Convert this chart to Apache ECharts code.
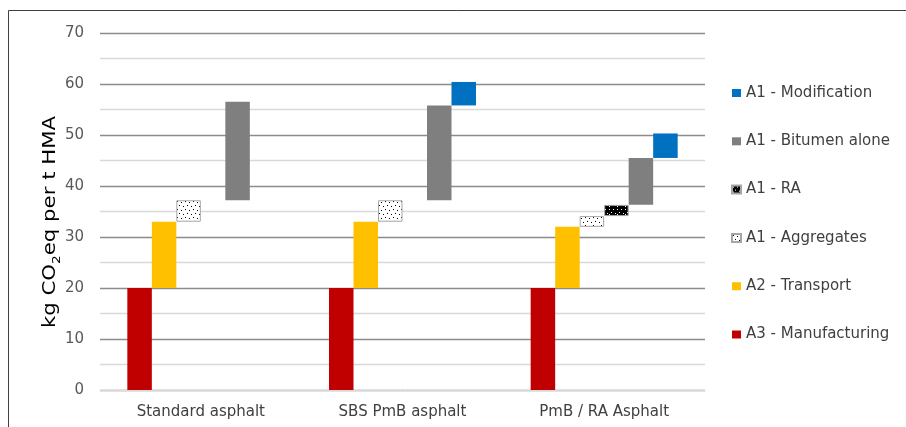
<!DOCTYPE html>
<html>
<head>
<meta charset="utf-8">
<script src="https://cdn.jsdelivr.net/npm/echarts@6/dist/echarts.min.js"></script>
<style>
html,body{margin:0;padding:0;background:#fff;}
#c{width:906px;height:427px;}
</style>
</head>
<body>
<div id="c"></div>
<script>
// Categories
const categories = ['Standard asphalt', 'SBS PmB asphalt', 'PmB / RA Asphalt'];
// Each series: [low, high] per category (null = no bar)
const manufacturing = [[0, 20], [0, 20], [0, 20]];
const transport = [[20, 33], [20, 33], [20, 32]];
const aggregates = [[33, 37.2], [33, 37.2], [32, 34.1]];
const ra = [null, null, [34.1, 36.3]];
const bitumen = [[37.2, 56.5], [37.2, 55.8], [36.3, 45.5]];
const modification = [null, [55.8, 60.4], [45.5, 50.3]];
const seriesNames = ['A3 - Manufacturing', 'A2 - Transport', 'A1 - Aggregates', 'A1 - RA', 'A1 - Bitumen alone', 'A1 - Modification'];
const legendOrder = ['A1 - Modification', 'A1 - Bitumen alone', 'A1 - RA', 'A1 - Aggregates', 'A2 - Transport', 'A3 - Manufacturing'];
const yTicks = [0, 10, 20, 30, 40, 50, 60, 70];

const FONT = '"DejaVu Sans", sans-serif';

function makePattern(bg, dot, pts) {
  const cv = document.createElement('canvas');
  cv.width = 8; cv.height = 8;
  const ctx = cv.getContext('2d');
  ctx.fillStyle = bg; ctx.fillRect(0, 0, 8, 8);
  ctx.fillStyle = dot;
  pts.forEach(p => ctx.fillRect(p[0], p[1], 1, 1));
  return cv;
}
const aggPattern = makePattern('#ffffff', '#000000', [[1, 1], [5, 2], [3, 5], [7, 6]]);
const raPattern = makePattern('#000000', '#ffffff', [[1, 1], [5, 1], [3, 4], [7, 5], [1, 6]]);

const styles = [
  { color: '#c00000' },
  { color: '#ffc000' },
  { color: { image: aggPattern, repeat: 'repeat' }, borderColor: '#a6a6a6', borderWidth: 1 },
  { color: { image: raPattern, repeat: 'repeat' }, borderColor: '#a6a6a6', borderWidth: 1 },
  { color: '#7f7f7f' },
  { color: '#0070c0' }
];
const allData = [manufacturing, transport, aggregates, ra, bitumen, modification];

const series = [];
allData.forEach((d, i) => {
  series.push({
    type: 'bar', stack: 's' + i, name: 'base' + i,
    barWidth: 24.5, barGap: '0%',
    itemStyle: { color: 'transparent' },
    emphasis: { disabled: true }, silent: true,
    data: d.map(v => v ? v[0] : '-')
  });
  series.push({
    type: 'bar', stack: 's' + i, name: seriesNames[i],
    barWidth: 24.5, barGap: '0%',
    itemStyle: styles[i],
    data: d.map(v => v ? +(v[1] - v[0]).toFixed(2) : '-')
  });
});

const chart = echarts.init(document.getElementById('c'), null, { renderer: 'canvas' });
chart.setOption({
  animation: false,
  backgroundColor: '#fff',
  textStyle: { fontFamily: FONT },
  grid: { left: 100, right: 201, top: 33, bottom: 37, containLabel: false },
  legend: {
    data: legendOrder,
    orient: 'vertical',
    left: 731, top: 85.5,
    padding: 0,
    itemWidth: 9, itemHeight: 8,
    itemGap: 33.3,
    icon: 'rect',
    textStyle: { fontSize: 15, lineHeight: 15, color: '#404040', fontFamily: FONT }
  },
  xAxis: {
    type: 'category', data: categories,
    axisLine: { lineStyle: { color: '#d9d9d9', width: 1 } },
    axisTick: { show: false },
    axisLabel: { fontSize: 15, color: '#404040', margin: 15, fontFamily: FONT }
  },
  yAxis: {
    type: 'value', min: 0, max: 70, interval: 10,
    axisLine: { show: false },
    axisTick: { show: false },
    axisLabel: { fontSize: 15, color: '#595959', margin: 16, fontFamily: FONT },
    splitLine: { lineStyle: { color: '#8c8c8c', width: 1.3 } },
    minorTick: { show: false, splitNumber: 2 },
    minorSplitLine: { show: true, lineStyle: { color: '#d9d9d9', width: 1.3 } }
  },
  graphic: [{
    type: 'rect', z: 100, silent: true,
    shape: { x: 8.5, y: 10.5, width: 1000, height: 1000 },
    style: { fill: 'none', stroke: '#404040', lineWidth: 1 }
  }, {
    type: 'text', z: 100, silent: true,
    x: 49, y: 222, rotation: Math.PI / 2, scaleX: 1.25,
    style: {
      text: '{a|kg CO}{s|2}{a|eq per t HMA}',
      align: 'center', verticalAlign: 'middle',
      rich: {
        a: { fontSize: 17, fill: '#000', fontFamily: FONT, lineHeight: 20, verticalAlign: 'bottom' },
        s: { fontSize: 11, fill: '#000', fontFamily: FONT, lineHeight: 20, verticalAlign: 'bottom', padding: [0, 0, -4, 0] }
      }
    }
  }],
  series: series
});
</script>
</body>
</html>
